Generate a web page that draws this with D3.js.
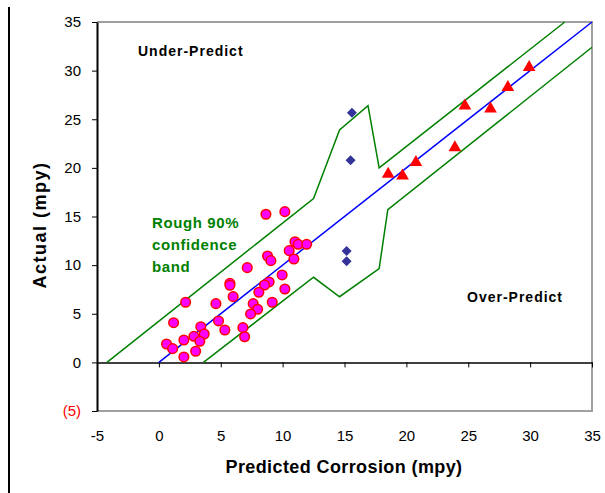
<html lang="en">
  <head>
    <meta charset="UTF-8" />
    <title>Predicted vs Actual Corrosion</title>
    <script src="https://d3js.org/d3.v7.min.js"></script>
  </head>
  <body>
    <style>
      body {
        background-color: #ffffff;
        margin: 0;
        padding: 0;
        font-family: "Liberation Sans", Arial, sans-serif;
      }
      svg {
        display: block;
      }
    </style>
    <script>
      const w = 605;
      const h = 493;

      // tick values
      const xTicks = [-5, 0, 5, 10, 15, 20, 25, 30, 35];
      const yTicks = [-5, 0, 5, 10, 15, 20, 25, 30, 35];

      // circles (magenta)
      const circleX = [8.65, 10.18, 11.0, 11.26, 11.94, 10.53, 8.78, 9.05, 10.91, 7.14, 9.96, 5.74, 5.74,
        8.91, 8.54, 10.18, 8.08, 6.0, 2.16, 4.61, 7.62, 9.16, 7.98, 7.41, 4.82, 1.19, 3.39, 5.33, 6.79,
        3.66, 2.83, 6.93, 2.02, 3.31, 0.62, 1.11, 2.97, 2.02];
      const circleY = [15.23, 15.5, 12.4, 12.14, 12.14, 11.49, 10.94, 10.46, 10.63, 9.74, 8.99, 8.13, 7.93,
        8.27, 7.96, 7.55, 7.21, 6.76, 6.18, 6.04, 6.04, 6.18, 5.46, 4.98, 4.26, 4.08, 3.67, 3.33, 3.57,
        2.92, 2.68, 2.64, 2.3, 2.17, 1.89, 1.41, 1.14, 0.56];

      // diamonds (navy)
      const diamondX = [15.6, 15.49, 15.17, 15.17];
      const diamondY = [25.67, 20.78, 11.46, 10.4];

      // triangles (red)
      const triX = [18.53, 19.69, 20.77, 23.92, 24.73, 26.8, 28.2, 29.92];
      const triY = [19.37, 19.17, 20.58, 22.08, 26.37, 26.06, 28.29, 30.34];

      // confidence band
      const upperX = [-4.2, 12.5, 14.6, 16.9, 17.8, 32.8];
      const upperY = [0, 16.85, 23.9, 26.4, 20.0, 35];
      const lowerX = [3.6, 12.5, 14.6, 17.8, 18.5, 35];
      const lowerY = [0, 8.75, 6.75, 9.65, 15.7, 32.4];

      // perfect prediction line
      const idealX = [0, 35];
      const idealY = [0, 35];

      const svg = d3.select("body").append("svg").attr("width", w).attr("height", h);

      const x = d3.scaleLinear().domain([-5, 35]).range([97, 592]);
      const y = d3.scaleLinear().domain([-5, 35]).range([411, 22]);

      // page edge line on the left
      svg.append("line")
        .attr("x1", 9).attr("x2", 9).attr("y1", 7).attr("y2", h)
        .attr("stroke", "#000").attr("stroke-width", 2);

      // plot frame (gray top/right/bottom)
      svg.append("path")
        .attr("d", `M${x(-5)},${y(35)}H${x(35)}V${y(-5)}H${x(-5)}`)
        .attr("fill", "none").attr("stroke", "#a0a0a0").attr("stroke-width", 2);

      // x axis at y = 0
      const xAxis = svg.append("g")
        .attr("transform", `translate(0, ${y(0)})`)
        .call(d3.axisBottom(x).tickValues(xTicks).tickSize(5).tickSizeOuter(0)
          .tickFormat((d) => String(d)));
      xAxis.select(".domain").attr("stroke", "#000").attr("stroke-width", 1.5);
      xAxis.selectAll(".tick line").attr("stroke", "#000");
      xAxis.selectAll("text")
        .attr("y", 441 - y(0)).attr("dy", 0)
        .attr("font-size", 15).attr("font-family", "Liberation Sans, Arial, sans-serif")
        .attr("fill", "#000");

      // y axis
      const yAxis = svg.append("g")
        .attr("transform", `translate(${x(-5)}, 0)`)
        .call(d3.axisLeft(y).tickValues(yTicks).tickSize(5).tickSizeOuter(0).tickPadding(11)
          .tickFormat((d) => (d < 0 ? `(${-d})` : String(d))));
      yAxis.select(".domain").attr("stroke", "#000").attr("stroke-width", 2);
      yAxis.selectAll(".tick line").attr("stroke", "#000");
      yAxis.selectAll("text")
        .attr("font-size", 15).attr("font-family", "Liberation Sans, Arial, sans-serif")
        .attr("fill", (d) => (d < 0 ? "#ff0000" : "#000"));

      const line = d3.line().x((d) => x(d[0])).y((d) => y(d[1]));

      svg.append("path")
        .attr("d", line(upperX.map((v, i) => [v, upperY[i]])))
        .attr("fill", "none").attr("stroke", "#008000").attr("stroke-width", 1.5);
      svg.append("path")
        .attr("d", line(lowerX.map((v, i) => [v, lowerY[i]])))
        .attr("fill", "none").attr("stroke", "#008000").attr("stroke-width", 1.5);
      svg.append("path")
        .attr("d", line(idealX.map((v, i) => [v, idealY[i]])))
        .attr("fill", "none").attr("stroke", "#0000ff").attr("stroke-width", 1.5);

      // markers
      svg.append("g").selectAll("circle")
        .data(circleX.map((v, i) => [v, circleY[i]]))
        .enter().append("circle")
        .attr("cx", (d) => x(d[0])).attr("cy", (d) => y(d[1])).attr("r", 4.8)
        .attr("fill", "#ff00ff").attr("stroke", "#ff0000").attr("stroke-width", 1.5);

      svg.append("g").selectAll("path")
        .data(diamondX.map((v, i) => [v, diamondY[i]]))
        .enter().append("path")
        .attr("d", d3.symbol(d3.symbolSquare, 50))
        .attr("transform", (d) => `translate(${x(d[0])},${y(d[1])}) rotate(45)`)
        .attr("fill", "#333399");

      svg.append("g").selectAll("path")
        .data(triX.map((v, i) => [v, triY[i]]))
        .enter().append("path")
        .attr("d", d3.symbol(d3.symbolTriangle, 70))
        .attr("transform", (d) => `translate(${x(d[0])},${y(d[1])})`)
        .attr("fill", "#ff0000");

      // annotations
      const ann = (txt, tx, ty, color, size, ls) =>
        svg.append("text").attr("x", tx).attr("y", ty).text(txt)
          .attr("font-weight", "bold").attr("font-size", size)
          .attr("letter-spacing", ls).attr("fill", color);
      ann("Under-Predict", 138, 56, "#000", 14, 1);
      ann("Over-Predict", 467, 302, "#000", 14, 1);
      ann("Rough 90%", 152, 228, "#008000", 15, 0.6);
      ann("confidence", 152, 250, "#008000", 15, 0.6);
      ann("band", 152, 272, "#008000", 15, 0.6);

      // axis titles
      svg.append("text")
        .attr("x", 344).attr("y", 473).attr("text-anchor", "middle")
        .attr("font-weight", "bold").attr("font-size", 18).attr("letter-spacing", 0.4)
        .text("Predicted Corrosion (mpy)");
      svg.append("text")
        .attr("transform", "translate(46, 225) rotate(-90)").attr("text-anchor", "middle")
        .attr("font-weight", "bold").attr("font-size", 18).attr("letter-spacing", 1.5)
        .text("Actual (mpy)");
    </script>
  </body>
</html>
